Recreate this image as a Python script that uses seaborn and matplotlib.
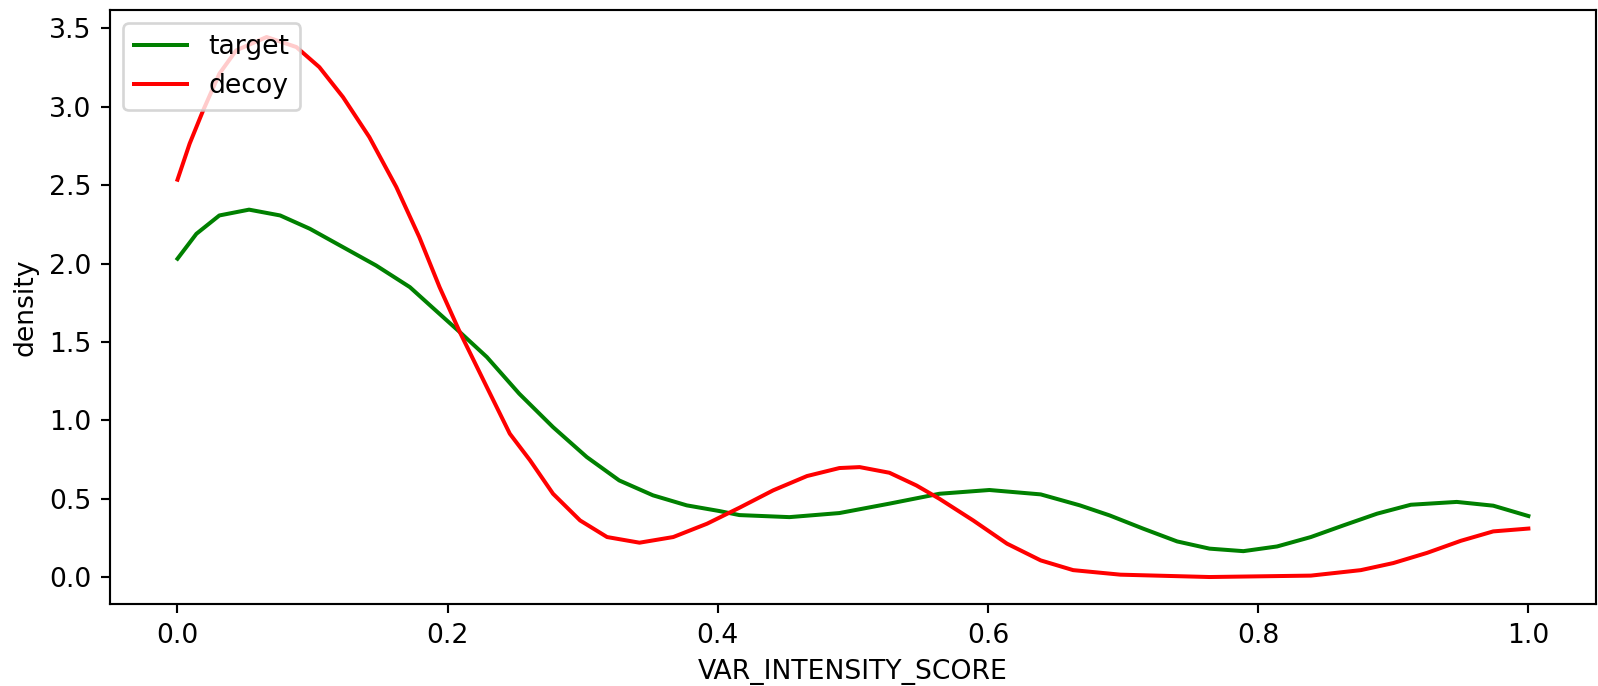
import pandas as pd
import seaborn as sns
import matplotlib
matplotlib.use("Agg")
import matplotlib.pyplot as plt

# values
target_x = [0.000, 0.014, 0.031, 0.053, 0.076, 0.098, 0.1225, 0.147, 0.172, 0.190, 0.209,
            0.229, 0.253, 0.278, 0.303, 0.327, 0.352, 0.377, 0.401, 0.416, 0.453, 0.490,
            0.527, 0.564, 0.601, 0.639, 0.668, 0.690, 0.715, 0.740, 0.764, 0.789, 0.814,
            0.839, 0.863, 0.888, 0.913, 0.947, 0.974, 1.000]
target_y = [2.031, 2.19, 2.307, 2.344, 2.307, 2.222, 2.105, 1.988, 1.85, 1.71, 1.563,
            1.404, 1.17, 0.957, 0.766, 0.617, 0.522, 0.458, 0.422, 0.396, 0.383, 0.409,
            0.469, 0.532, 0.556, 0.528, 0.458, 0.394, 0.309, 0.228, 0.182, 0.166, 0.196,
            0.256, 0.330, 0.405, 0.462, 0.480, 0.456, 0.39]

decoy_x = [0.000, 0.009, 0.019, 0.031, 0.0435, 0.066, 0.088, 0.105, 0.1225, 0.142, 0.162,
           0.179, 0.194, 0.209, 0.229, 0.246, 0.261, 0.278, 0.298, 0.318, 0.342, 0.367,
           0.392, 0.416, 0.441, 0.466, 0.490, 0.505, 0.527, 0.547, 0.564, 0.589, 0.614,
           0.639, 0.663, 0.698, 0.764, 0.839, 0.876, 0.900, 0.925, 0.950, 0.974, 1.000]
decoy_y = [2.535, 2.765, 2.977, 3.211, 3.36, 3.445, 3.381, 3.253, 3.062, 2.807, 2.488,
           2.169, 1.85, 1.563, 1.212, 0.915, 0.745, 0.532, 0.362, 0.256, 0.220, 0.256,
           0.341, 0.443, 0.554, 0.645, 0.696, 0.702, 0.666, 0.585, 0.50, 0.362, 0.214,
           0.107, 0.045, 0.016, 0.001, 0.010, 0.045, 0.090, 0.155, 0.232, 0.292, 0.310]

df = pd.concat([
    pd.DataFrame({"score": target_x, "density": target_y, "label": "target"}),
    pd.DataFrame({"score": decoy_x, "density": decoy_y, "label": "decoy"}),
])

dpi = 192
fig, ax = plt.subplots(figsize=(1598 / dpi, 686 / dpi), dpi=dpi)
sns.lineplot(data=df, x="score", y="density", hue="label", sort=False,
             palette={"target": "green", "decoy": "red"}, linewidth=1.5, ax=ax)
sns.move_legend(ax, "upper left", title=None)

ax.set_xlabel("VAR_INTENSITY_SCORE")
ax.set_ylabel("density")
fig.subplots_adjust(left=0.0688, right=0.9987, bottom=0.1195, top=0.9854)
fig.savefig("out.png", dpi=dpi)
